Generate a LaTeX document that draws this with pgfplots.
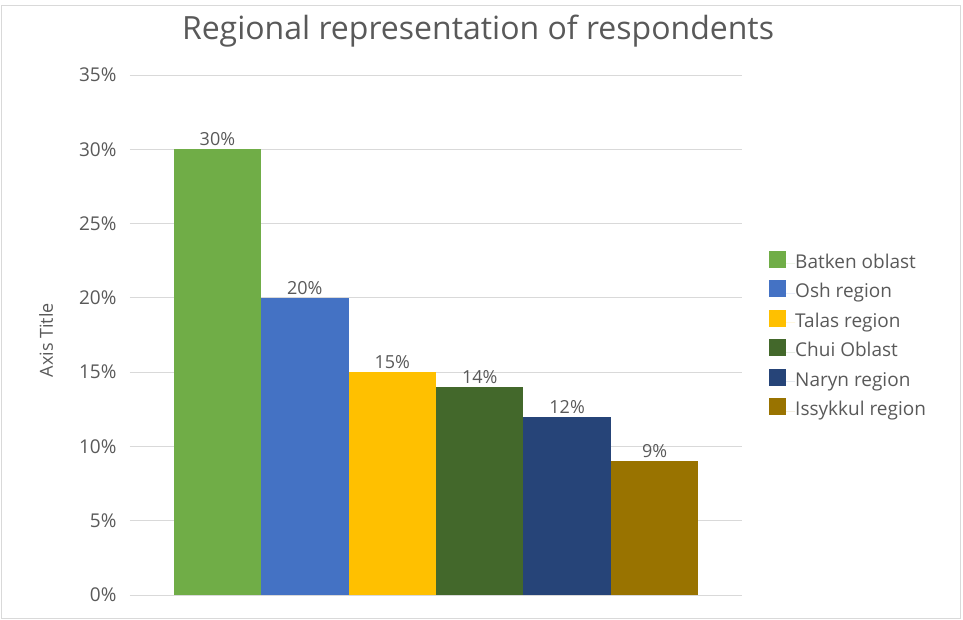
\documentclass[border=0pt]{standalone}
\usepackage{pgfplots}
\pgfplotsset{compat=1.18}
\usepackage{fontspec}
\setmainfont{Open Sans}
\definecolor{txt}{HTML}{595959}
\definecolor{grd}{HTML}{D9D9D9}
\definecolor{c1}{HTML}{70AD47}
\definecolor{c2}{HTML}{4472C4}
\definecolor{c3}{HTML}{FFC000}
\definecolor{c4}{HTML}{43682B}
\definecolor{c5}{HTML}{264478}
\definecolor{c6}{HTML}{997300}
\begin{document}
\begin{tikzpicture}[x=1pt,y=1pt]
\useasboundingbox (0,0) rectangle (963,619);
\draw[grd] (1,1) rectangle (960,614);
\node[text=txt, font=\fontsize{32}{38}\selectfont, anchor=base] at (478,579) {Regional representation of respondents};
\begin{axis}[
  at={(130pt,24pt)}, anchor=south west,
  scale only axis, width=612pt, height=520pt,
  xmin=-3.5, xmax=3.5, ymin=0, ymax=35,
  ytick={0,5,...,35},
  xtick=\empty,
  ymajorgrids, grid style={grd, line width=0.9pt},
  axis line style={draw=none},
  major tick length=0pt,
  /pgf/number format/assume math mode=true,
  yticklabel={\pgfmathprintnumber{\tick}\%},
  yticklabel style={text=txt, font=\fontsize{19}{22}\selectfont, xshift=-10pt},
  ylabel={Axis Title},
  ylabel style={text=txt, font=\fontsize{18}{21}\selectfont, at={(axis description cs:-0.12,0.49)}},
  ybar, bar width=1, bar shift=0pt,
  nodes near coords={\pgfmathprintnumber{\pgfplotspointmeta}\%},
  nodes near coords style={text=txt, font=\fontsize{18}{21}\selectfont, inner sep=3pt, anchor=south},
  legend style={at={(1,0.5)}, anchor=west, xshift=24pt, draw=none, fill=none,
    font=\fontsize{19}{22}\selectfont, text=txt, row sep=8pt,
    nodes={inner sep=0pt, text height=13pt, text depth=4pt}},
  legend cell align=left,
  legend image code/.code={\fill[#1, draw=none] (0pt,-4pt) rectangle (17pt,13pt); \path (0pt,0pt) -- (26pt,0pt);},
]
\addplot[fill=c1, draw=none] coordinates {(-2.5,30)};
\addplot[fill=c2, draw=none] coordinates {(-1.5,20)};
\addplot[fill=c3, draw=none] coordinates {(-0.5,15)};
\addplot[fill=c4, draw=none] coordinates {(0.5,14)};
\addplot[fill=c5, draw=none] coordinates {(1.5,12)};
\addplot[fill=c6, draw=none] coordinates {(2.5,9)};
\legend{Batken oblast, Osh region, Talas region, Chui Oblast, Naryn region, Issykkul region}
\end{axis}
\end{tikzpicture}
\end{document}
